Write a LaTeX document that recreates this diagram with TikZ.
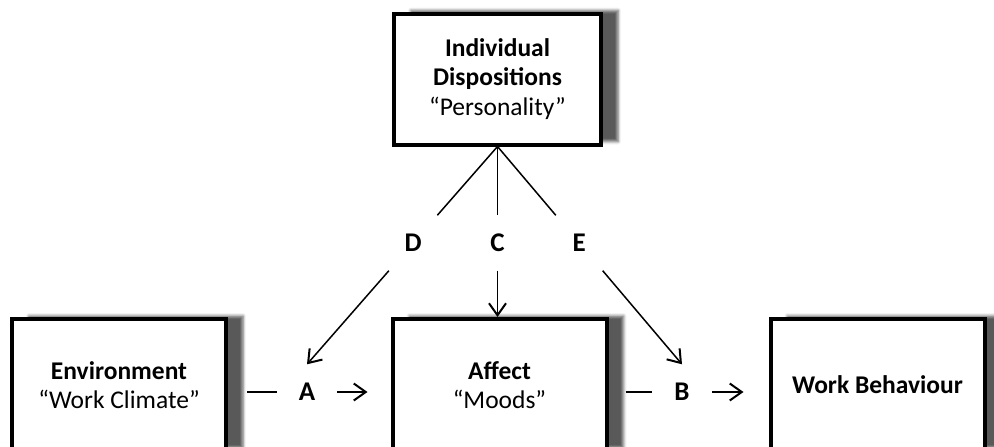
\documentclass[tikz,border=0pt]{standalone}
\usepackage{fontspec}
\setmainfont{Carlito}
\usetikzlibrary{arrows.meta,shadows.blur,calc}
\begin{document}
\begin{tikzpicture}[x=1pt,y=-1pt,
  box/.style={draw=black, line width=4pt, fill=white, minimum width=214pt,
    minimum height=132pt, inner sep=0pt, align=center,
    font=\fontsize{25.5}{29.5}\selectfont,
    blur shadow={shadow xshift=17pt, shadow yshift=3pt, shadow blur radius=3pt,
      shadow blur extra rounding=0pt, shadow opacity=65}},
  lbl/.style={minimum width=60pt, minimum height=55pt, inner sep=0pt,
    font=\bfseries\fontsize{27}{32}\selectfont},
  link/.style={line width=1.5pt},
  arr/.style={link, -{Straight Barb[length=12pt,width=17pt,line width=2pt]}}
]
\useasboundingbox (0,0) rectangle (994,447);
\clip (0,0) rectangle (994,447);

% boxes
\node[box, minimum width=207pt, minimum height=131pt] (top) at (497.5,79)
  {\textbf{Individual}\\\textbf{Dispositions}\\“Personality”};
\node[box] (env) at (119,385) {\textbf{Environment}\\“Work Climate”};
\node[box] (affect) at (499.5,385) {\textbf{Affect}\\“Moods”};
\node[box] (wb) at (877.5,385) {\textbf{Work Behaviour}};

% path labels
\node[lbl] (A) at (307,392) {A};
\node[lbl] (B) at (682,392) {B};
\node[lbl] (C) at (497.5,243) {C};
\node[lbl] (D) at ($(top.south)!0.443!(A.north)$) {D};
\node[lbl] (E) at ($(top.south)!0.443!(B.north)$) {E};

% moderating links from dispositions
\draw[link] (top.south) -- (D);
\draw[arr] (D) -- (A.north);
\draw[link] (top.south) -- (C);
\draw[arr] (C) -- (C |- affect.north);
\draw[link] (top.south) -- (E);
\draw[arr] (E) -- (B.north);

% main causal chain
\draw[link] ($(env.east |- A)+(19,0)$) -- (A);
\draw[arr] (A) -- ($(affect.west |- A)+(-23,0)$);
\draw[link] ($(affect.east |- B)+(17,0)$) -- (B);
\draw[arr] (B) -- ($(wb.west |- B)+(-25,0)$);
\end{tikzpicture}
\end{document}
